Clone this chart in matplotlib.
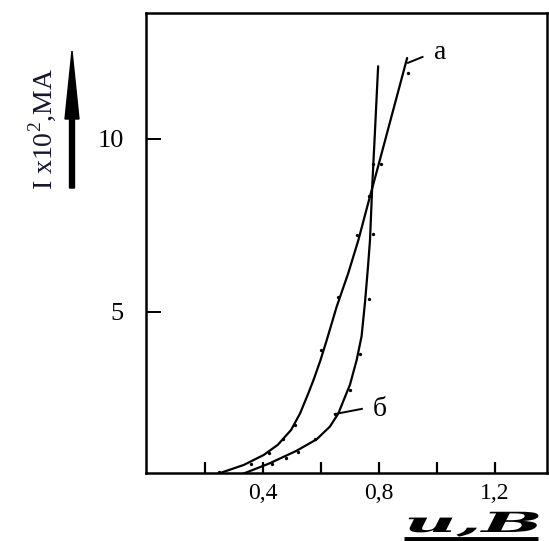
import matplotlib
matplotlib.use("Agg")
import matplotlib.pyplot as plt
from matplotlib.patches import FancyArrow
from matplotlib.lines import Line2D
from matplotlib.transforms import Affine2D, IdentityTransform
from matplotlib.patheffects import AbstractPathEffect

plt.rcParams['mathtext.fontset'] = 'custom'
plt.rcParams['mathtext.rm'] = 'Liberation Serif'
plt.rcParams['font.family'] = ['Liberation Serif', 'DejaVu Serif']

# ---- data ----
a_line_x = [0.240, 0.334, 0.403, 0.451, 0.497, 0.528, 0.556, 0.575, 0.598, 0.620, 0.654, 0.694, 0.729, 0.766, 0.800, 0.897]
a_line_y = [0.31, 0.58, 0.87, 1.16, 1.59, 2.07, 2.64, 3.05, 3.60, 4.19, 5.15, 6.12, 7.08, 8.25, 9.30, 12.34]
b_line_x = [0.327, 0.424, 0.516, 0.585, 0.631, 0.660, 0.683, 0.700, 0.723, 0.740, 0.752, 0.762, 0.769, 0.777, 0.786, 0.797]
b_line_y = [0.31, 0.63, 0.99, 1.32, 1.69, 2.07, 2.55, 2.90, 3.61, 4.30, 5.30, 6.30, 7.08, 8.70, 10.20, 12.10]

a_pts_x = [0.25, 0.36, 0.42, 0.47, 0.51, 0.60, 0.66, 0.725, 0.766, 0.807, 0.90]
a_pts_y = [0.38, 0.62, 0.93, 1.33, 1.72, 3.90, 5.42, 7.23, 8.35, 9.28, 11.90]
b_pts_x = [0.33, 0.43, 0.48, 0.52, 0.58, 0.65, 0.70, 0.735, 0.766, 0.779, 0.779]
b_pts_y = [0.30, 0.60, 0.78, 0.95, 1.33, 2.05, 2.74, 3.80, 5.37, 7.25, 9.28]

x_ticks = [0.2, 0.4, 0.6, 0.8, 1.0, 1.2]
x_ticklabels = ['', '0,4', '', '0,8', '', '1,2']
y_ticks = [5, 10]
y_ticklabels = ['5', '10']


class Stretch(AbstractPathEffect):
    def __init__(self, sx=1.0, sy=1.0):
        super().__init__()
        self.sx, self.sy = sx, sy

    def draw_path(self, renderer, gc, tpath, affine, rgbFace=None):
        x0, y0 = affine.transform((0, 0))
        t = affine + Affine2D().translate(-x0, -y0).scale(self.sx, self.sy).translate(x0, y0)
        renderer.draw_path(gc, tpath, t, rgbFace)


W, H = 549, 541
fig = plt.figure(figsize=(W / 100, H / 100), dpi=100)
ax = fig.add_axes([146 / W, 1 - 473 / H, (547 - 146) / W, (473 - 13) / H])
ax.set_xlim(-0.003, 1.379)
ax.set_ylim(0.347, 13.64)

ax.plot(a_line_x, a_line_y, color='black', lw=1.6, solid_capstyle='round', solid_joinstyle='round')
ax.plot(b_line_x, b_line_y, color='black', lw=1.6, solid_capstyle='round', solid_joinstyle='round')
ax.plot(a_pts_x, a_pts_y, 'o', color='black', ms=2.4, mew=0)
ax.plot(b_pts_x, b_pts_y, 'o', color='black', ms=2.4, mew=0)

# curve labels with leaders
ax.plot([0.90, 0.95], [12.2, 12.37], color='black', lw=1.4)
ax.text(0.99, 12.3, 'а', fontsize=20, ha='left', va='baseline')
ax.plot([0.648, 0.741], [2.05, 2.2], color='black', lw=1.4)
ax.text(0.78, 2.0, 'б', fontsize=20, ha='left', va='baseline')

for s in ax.spines.values():
    s.set_linewidth(1.8)
ax.set_xticks(x_ticks)
ax.set_xticklabels(x_ticklabels)
ax.set_yticks(y_ticks)
ax.set_yticklabels(y_ticklabels)
ax.tick_params(axis='x', direction='in', length=8, width=1.6, labelsize=17, pad=7)
ax.tick_params(axis='y', direction='in', length=11, width=1.4, labelsize=19, pad=16)

# y axis label with arrow
px = IdentityTransform()
fig.add_artist(FancyArrow(72, H - 188, 0, 137, width=5, head_width=14, head_length=68,
                          length_includes_head=True, color='black', transform=px))
fig.text(52 / W, 1 - 190 / H, r'I x10$^{2}$,МА', fontsize=20, rotation=90,
         rotation_mode='anchor', ha='left', va='baseline', color='#15152e')

# x axis label
fig.text(404 / W, 1 - 532 / H, 'и,В', fontsize=20, fontfamily='DejaVu Serif',
         fontweight='bold', fontstyle='italic', ha='left', va='baseline',
         path_effects=[Stretch(2.6, 1.0)])
fig.add_artist(Line2D([404, 538], [H - 539, H - 539], lw=3.5, color='black',
                      transform=px, solid_capstyle='butt'))

fig.savefig('out.png', dpi=100)
